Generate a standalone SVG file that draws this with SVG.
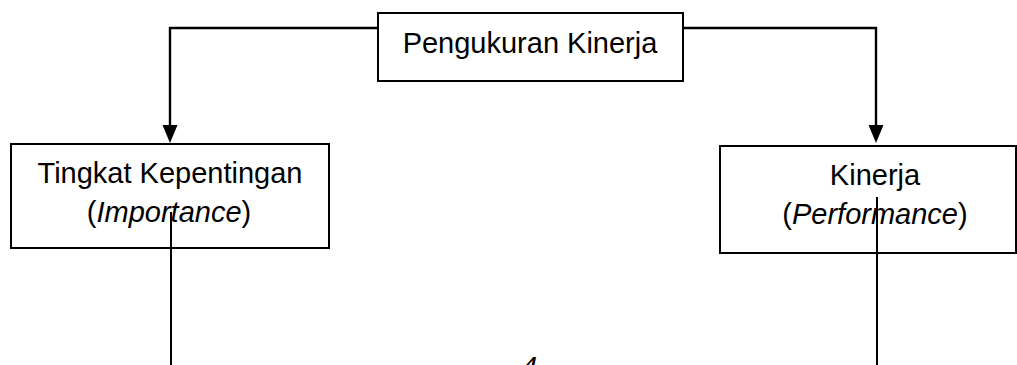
<svg xmlns="http://www.w3.org/2000/svg" width="1017" height="365" viewBox="0 0 1017 365">
  <style>
    .box { fill: #fff; stroke: #000; stroke-width: 2; }
    .conn { fill: none; stroke: #000; stroke-width: 2.4; }
    .stem { fill: none; stroke: #000; stroke-width: 2; }
    .lbl { font-family: "Liberation Sans", Arial, sans-serif; font-size: 29px; fill: #000; text-anchor: middle; }
    .it { font-style: italic; }
  </style>

  <g id="connectors">
    <path class="conn" d="M378 28 H170 V126" />
    <path d="M162.5 125 L177.5 125 L170 143 Z" fill="#000"/>
    <path class="conn" d="M683 28 H876 V126" />
    <path d="M868.5 125 L883.5 125 L876 143 Z" fill="#000"/>
  </g>

  <g id="pengukuran-kinerja">
    <rect class="box" x="378" y="13" width="305" height="68"/>
    <text class="lbl" x="530" y="53">Pengukuran Kinerja</text>
  </g>

  <g id="tingkat-kepentingan">
    <rect class="box" x="11" y="144" width="318" height="104"/>
    <text class="lbl" x="170" y="183">Tingkat Kepentingan</text>
    <text class="lbl" x="169" y="222">(<tspan class="it">Importance</tspan>)</text>
  </g>

  <g id="kinerja">
    <rect class="box" x="720" y="146" width="296" height="107"/>
    <text class="lbl" x="875" y="185">Kinerja</text>
    <text class="lbl" x="875" y="224">(<tspan class="it">Performance</tspan>)</text>
  </g>

  <g id="stems">
    <line class="stem" x1="171" y1="212" x2="171" y2="365"/>
    <line class="stem" x1="877" y1="197" x2="877" y2="365"/>
  </g>

  <!-- page number, partly below the bottom edge -->
  <text class="lbl it" x="529" y="377">4</text>
</svg>
